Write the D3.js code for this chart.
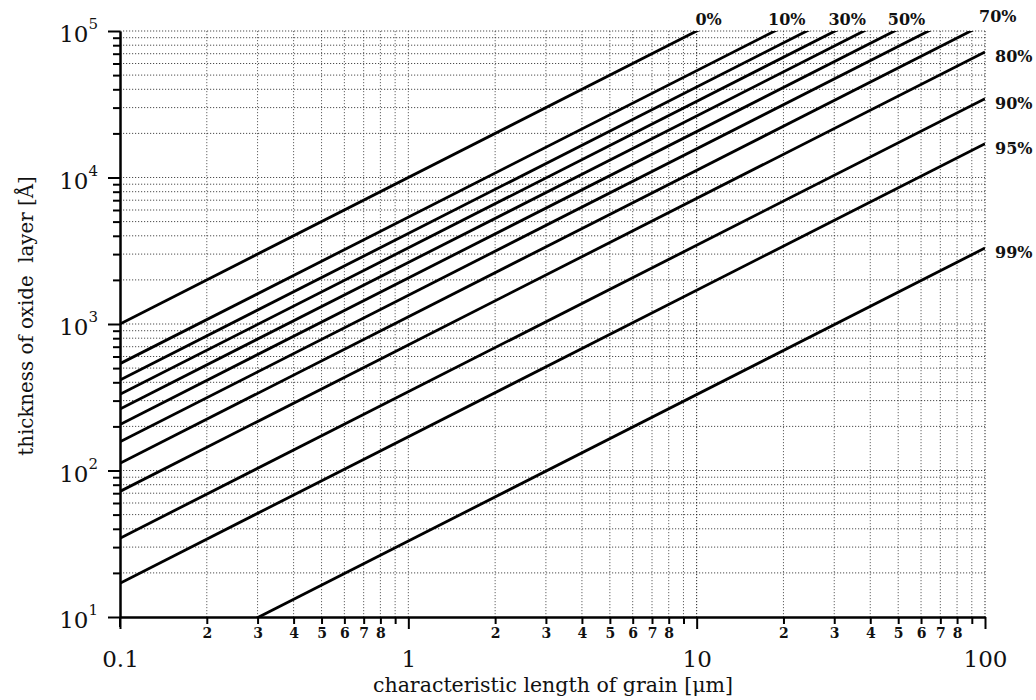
<!DOCTYPE html>
<html>
<head>
<meta charset="utf-8">
<script src="https://cdn.jsdelivr.net/npm/d3@7"></script>
<style>
  html, body { margin: 0; padding: 0; background: #fff; }
  svg { display: block; }
  text { font-family: "DejaVu Serif", "Liberation Serif", serif; fill: #111; }
</style>
</head>
<body>
<svg id="chart" width="1036" height="700"></svg>
<script>
// Oxide-layer thickness vs. characteristic grain length, one line per oxidised fraction
const fractions = ["0%", "10%", "20%", "30%", "40%", "50%", "60%", "70%", "80%", "90%", "95%", "99%"];
const grainLengths = [0.1, 100];                       // µm, ends of each line
const thicknessAtStart = [1000, 536, 415, 331, 263, 206, 157, 112, 72, 34.5, 17, 3.3];           // Å at 0.1 µm
const thicknessAtEnd = [1e6, 536000, 415000, 331000, 263000, 206000, 157000, 112000, 72000, 34500, 17000, 3300]; // Å at 100 µm
const labelledTop = ["0%", "10%", "30%", "50%", "70%"];
const labelledRight = ["80%", "90%", "95%", "99%"];

const xMajor = [0.1, 1, 10, 100];
const xMajorLabels = ["0.1", "1", "10", "100"];
const xMinor = [0.2,0.3,0.4,0.5,0.6,0.7,0.8,0.9, 2,3,4,5,6,7,8,9, 20,30,40,50,60,70,80,90];
const xMinorLabels = ["2", "3", "4", "5", "6", "7", "8", ""];
const yMajor = [10, 100, 1000, 10000, 100000];
const yMajorExp = ["1", "2", "3", "4", "5"];
const yMinor = [20,30,40,50,60,70,80,90, 200,300,400,500,600,700,800,900,
                2000,3000,4000,5000,6000,7000,8000,9000, 20000,30000,40000,50000,60000,70000,80000,90000];

const svg = d3.select("#chart");
const m = { left: 120, right: 985, top: 31, bottom: 617 };

const x = d3.scaleLog().domain([0.1, 100]).range([m.left, m.right]);
const y = d3.scaleLog().domain([10, 1e5]).range([m.bottom, m.top]);

// dotted grid
const grid = svg.append("g").attr("stroke", "#222").attr("stroke-width", 1)
  .attr("stroke-dasharray", "1.2,1.8").attr("fill", "none");
grid.selectAll(".gv").data(xMinor.concat([1, 10, 100])).join("line")
  .attr("x1", d => x(d)).attr("x2", d => x(d)).attr("y1", m.top).attr("y2", m.bottom)
  .attr("stroke-opacity", d => (d === 10 || d === 100) ? 1 : 0.7);
grid.selectAll(".gh").data(yMinor.concat([100, 1000, 10000, 100000])).join("line")
  .attr("y1", d => y(d)).attr("y2", d => y(d)).attr("x1", m.left).attr("x2", m.right)
  .attr("stroke-opacity", 0.8);

// clipped data lines
svg.append("clipPath").attr("id", "plotArea")
  .append("rect").attr("x", m.left).attr("y", m.top).attr("width", m.right - m.left).attr("height", m.bottom - m.top);

const series = fractions.map((f, i) => ({
  name: f,
  points: [[grainLengths[0], thicknessAtStart[i]], [grainLengths[1], thicknessAtEnd[i]]]
}));

const line = d3.line().x(d => x(d[0])).y(d => y(d[1]));
svg.append("g").attr("clip-path", "url(#plotArea)")
  .selectAll("path").data(series).join("path")
  .attr("d", d => line(d.points))
  .attr("fill", "none").attr("stroke", "#000").attr("stroke-width", 2.8);

// axes
const axisLayer = svg.append("g");
const xMinorAxis = axisLayer.append("g").attr("transform", `translate(0,${m.bottom})`)
  .call(d3.axisBottom(x).tickValues(xMinor).tickSize(7).tickSizeOuter(0)
    .tickFormat((d, i) => xMinorLabels[i % 8]));
xMinorAxis.selectAll("text").attr("font-size", 14).attr("font-weight", "bold").attr("dy", "0.75em");
const xMajorAxis = axisLayer.append("g").attr("transform", `translate(0,${m.bottom})`)
  .call(d3.axisBottom(x).tickValues(xMajor).tickSize(12).tickSizeOuter(0)
    .tickFormat((d, i) => xMajorLabels[i]));
xMajorAxis.selectAll("text").attr("font-size", 23).attr("dy", "1.5em");

axisLayer.append("g").attr("transform", `translate(${m.left},0)`)
  .call(d3.axisLeft(y).tickValues(yMinor).tickSize(7).tickSizeOuter(0).tickFormat(""));
axisLayer.append("g").attr("transform", `translate(${m.left},0)`)
  .call(d3.axisLeft(y).tickValues(yMajor).tickSize(12).tickSizeOuter(0).tickFormat(""));

axisLayer.selectAll(".domain").attr("stroke", "#000").attr("stroke-width", 2);
axisLayer.selectAll(".tick line").attr("stroke", "#000").attr("stroke-width", 2);
axisLayer.selectAll(".tick text").style("font-family", "DejaVu Serif, serif").attr("fill", "#111");
// y axis extends a little past the corner
axisLayer.append("line").attr("x1", m.left).attr("x2", m.left).attr("y1", m.bottom).attr("y2", m.bottom + 10)
  .attr("stroke", "#000").attr("stroke-width", 2);

// power-of-ten labels on y
const yLab = svg.append("g").selectAll("text").data(yMajor).join("text")
  .attr("x", m.left - 22).attr("y", d => y(d) + 11)
  .attr("text-anchor", "end").attr("font-size", 23);
yLab.append("tspan").text("10");
yLab.append("tspan").attr("font-size", 15).attr("dy", -13).text((d, i) => yMajorExp[i]);

// axis titles
svg.append("text").attr("x", 553).attr("y", 692)
  .attr("text-anchor", "middle").attr("font-size", 20.5)
  .text("characteristic length of grain [\u03bcm]");
svg.append("text").attr("transform", `translate(33,316) rotate(-90)`)
  .attr("text-anchor", "middle").attr("font-size", 19.8).style("white-space", "pre")
  .text("thickness of oxide  layer [\u00c5]");

// fraction labels
const topThickness = 1e5;
const labels = svg.append("g").attr("font-weight", "bold").attr("font-size", 16);
labelledTop.forEach(f => {
  const i = fractions.indexOf(f);
  // grain length where the line reaches the top of the plot
  const L = grainLengths[0] * topThickness / thicknessAtStart[i];
  const isLast = f === "70%";
  labels.append("text")
    .attr("x", x(L) + (isLast ? 27 : 12))
    .attr("y", isLast ? 22 : 25)
    .attr("text-anchor", "middle")
    .text(f);
});
labelledRight.forEach(f => {
  const i = fractions.indexOf(f);
  labels.append("text")
    .attr("x", m.right + 10)
    .attr("y", y(thicknessAtEnd[i]) + 10)
    .attr("text-anchor", "start")
    .text(f);
});
</script>
</body>
</html>
